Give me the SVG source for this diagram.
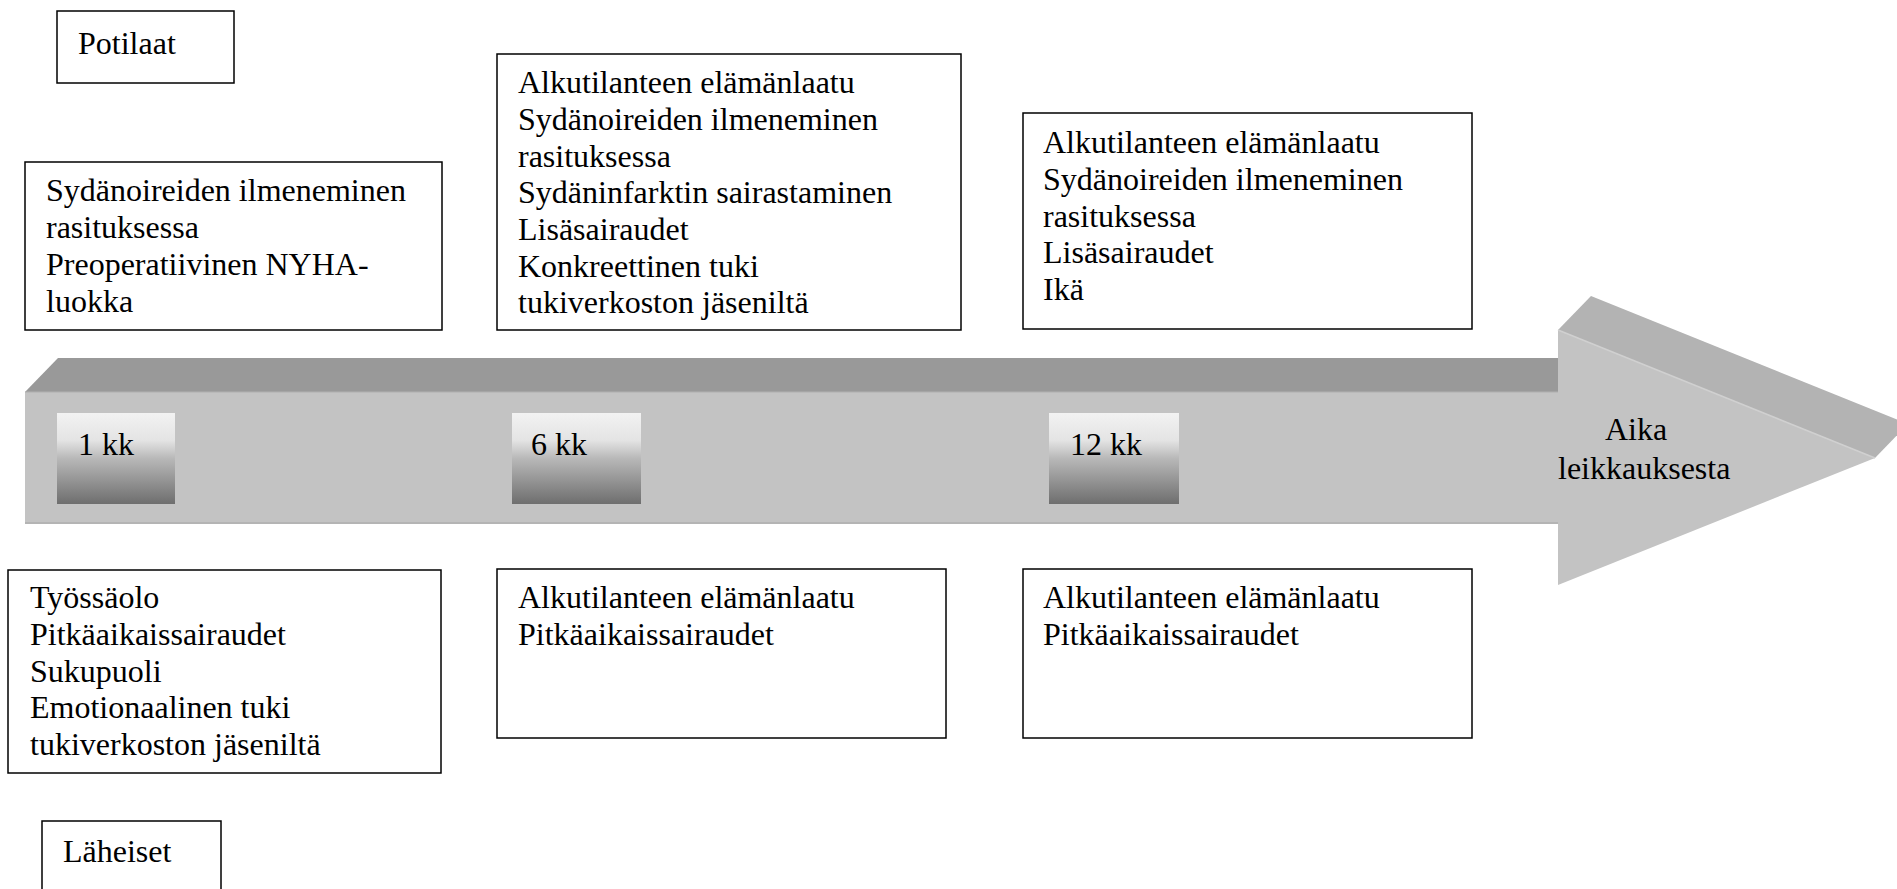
<svg xmlns="http://www.w3.org/2000/svg" width="1897" height="889" viewBox="0 0 1897 889">
<style>
.box{fill:#ffffff;stroke:#000000;stroke-width:1.5}
.t{font-family:"Liberation Serif","Times New Roman",serif;font-size:32px;fill:#000000}
.mark{fill:url(#mg)}
</style>
<defs>
<linearGradient id="mg" x1="0" y1="0" x2="0" y2="1">
<stop offset="0" stop-color="#f2f2f2"/>
<stop offset="0.3" stop-color="#e4e4e4"/>
<stop offset="0.5" stop-color="#b8b8b8"/>
<stop offset="1" stop-color="#6e6e6e"/>
</linearGradient>
</defs>
<rect width="1897" height="889" fill="#ffffff"/>
<g id="arrow">
<polygon points="25,392 58,358 1560,358 1560,392" fill="#999999"/>
<polygon points="1558,330 1591,296 1908,424 1875,458" fill="#b3b3b3"/>
<rect x="25" y="392" width="1535" height="131" fill="#c3c3c3"/>
<line x1="25" y1="523" x2="1558" y2="523" stroke="#b4b4b4" stroke-width="2"/>
<line x1="25" y1="392" x2="1558" y2="392" stroke="#b0b0b0" stroke-width="1"/>
<polygon points="1558,330 1875,458 1558,585" fill="#c3c3c3"/>
<line x1="1558" y1="330" x2="1875" y2="458" stroke="#d0d0d0" stroke-width="1.5"/>
<text class="t" x="1605" y="440">Aika</text>
<text class="t" x="1558" y="479">leikkauksesta</text>
</g>
<g id="m1">
<rect class="mark" x="57" y="413" width="118" height="91"/>
<text class="t" x="78" y="455">1 kk</text>
</g>
<g id="m6">
<rect class="mark" x="512" y="413" width="129" height="91"/>
<text class="t" x="531" y="455">6 kk</text>
</g>
<g id="m12">
<rect class="mark" x="1049" y="413" width="130" height="91"/>
<text class="t" x="1070" y="455">12 kk</text>
</g>
<g id="potilaat">
<rect class="box" x="57" y="11" width="177" height="72"/>
<text class="t" x="78" y="54">Potilaat</text>
</g>
<g id="top1">
<rect class="box" x="25" y="162" width="417" height="168"/>
<text class="t" x="46" y="201">Sydänoireiden ilmeneminen</text>
<text class="t" x="46" y="238">rasituksessa</text>
<text class="t" x="46" y="275">Preoperatiivinen NYHA-</text>
<text class="t" x="46" y="312">luokka</text>
</g>
<g id="top6">
<rect class="box" x="497" y="54" width="464" height="276"/>
<text class="t" x="518" y="93">Alkutilanteen elämänlaatu</text>
<text class="t" x="518" y="130">Sydänoireiden ilmeneminen</text>
<text class="t" x="518" y="167">rasituksessa</text>
<text class="t" x="518" y="203">Sydäninfarktin sairastaminen</text>
<text class="t" x="518" y="240">Lisäsairaudet</text>
<text class="t" x="518" y="277">Konkreettinen tuki</text>
<text class="t" x="518" y="313">tukiverkoston jäseniltä</text>
</g>
<g id="top12">
<rect class="box" x="1023" y="113" width="449" height="216"/>
<text class="t" x="1043" y="153">Alkutilanteen elämänlaatu</text>
<text class="t" x="1043" y="190">Sydänoireiden ilmeneminen</text>
<text class="t" x="1043" y="227">rasituksessa</text>
<text class="t" x="1043" y="263">Lisäsairaudet</text>
<text class="t" x="1043" y="300">Ikä</text>
</g>
<g id="bottom1">
<rect class="box" x="8" y="570" width="433" height="203"/>
<text class="t" x="30" y="608">Työssäolo</text>
<text class="t" x="30" y="645">Pitkäaikaissairaudet</text>
<text class="t" x="30" y="682">Sukupuoli</text>
<text class="t" x="30" y="718">Emotionaalinen tuki</text>
<text class="t" x="30" y="755">tukiverkoston jäseniltä</text>
</g>
<g id="bottom6">
<rect class="box" x="497" y="569" width="449" height="169"/>
<text class="t" x="518" y="608">Alkutilanteen elämänlaatu</text>
<text class="t" x="518" y="645">Pitkäaikaissairaudet</text>
</g>
<g id="bottom12">
<rect class="box" x="1023" y="569" width="449" height="169"/>
<text class="t" x="1043" y="608">Alkutilanteen elämänlaatu</text>
<text class="t" x="1043" y="645">Pitkäaikaissairaudet</text>
</g>
<g id="laheiset">
<rect class="box" x="42" y="821" width="179" height="80"/>
<text class="t" x="63" y="862">Läheiset</text>
</g>
<g id="connectors"></g>
</svg>
